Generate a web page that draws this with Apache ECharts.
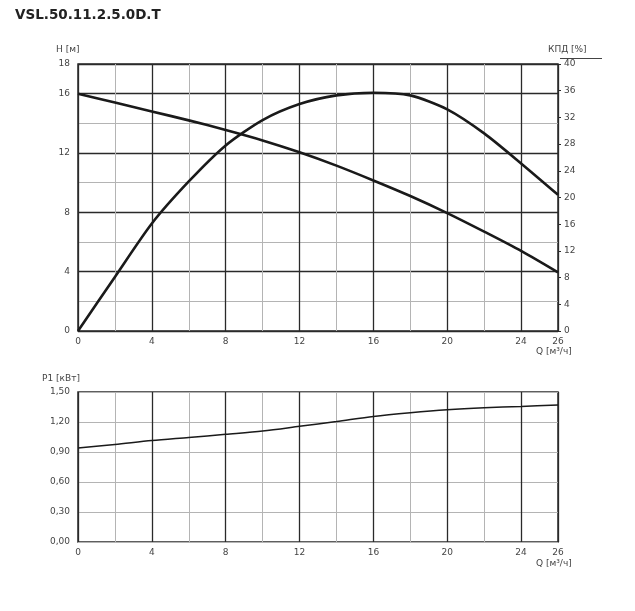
<!DOCTYPE html>
<html>
<head>
<meta charset="utf-8">
<script src="https://cdn.jsdelivr.net/npm/echarts@6/dist/echarts.min.js"></script>
<style>html,body{margin:0;padding:0;background:#fff}#c{width:635px;height:611px}</style>
</head>
<body>
<div id="c"></div>
<script>
// ---- data ----
var title = 'VSL.50.11.2.5.0D.T';
var Q   = [0, 2, 4, 6, 8, 10, 12, 14, 16, 18, 20, 22, 24, 26];
var H   = [16, 15.4, 14.8, 14.2, 13.55, 12.85, 12.05, 11.15, 10.15, 9.1, 7.95, 6.7, 5.4, 3.95];
var ETA = [0, 8.1, 16.1, 22.4, 27.8, 31.6, 34.0, 35.3, 35.7, 35.3, 33.2, 29.6, 25.1, 20.4];
var P1  = [0.94, 0.975, 1.014, 1.045, 1.077, 1.11, 1.157, 1.205, 1.256, 1.293, 1.323, 1.343, 1.356, 1.369];
var xTickLabels = [0, 4, 8, 12, 16, 20, 24, 26];
var hTickLabels = [0, 4, 8, 12, 16, 18];

function pairs(xs, ys){ return xs.map(function(x,i){ return [x, ys[i]]; }); }

var FONT = 'DejaVu Sans';
var LBL = {color:'#444', fontFamily:FONT, fontSize:9};
var DARK = '#2a2a2a', LIGHT = '#b4b4b4';

function xAxes(gi){
  return [
    {type:'value', gridIndex:gi, min:0, max:26, interval:2,
     axisLine:{show:false}, axisTick:{show:false},
     splitLine:{show:true, lineStyle:{color:LIGHT, width:1}},
     axisLabel:Object.assign({margin:6, showMaxLabel:true, formatter:function(v){ return xTickLabels.indexOf(v)>=0 ? String(v) : ''; }}, LBL)},
    {type:'value', gridIndex:gi, min:0, max:26, interval:4,
     axisLine:{show:false}, axisTick:{show:false}, axisLabel:{show:false},
     splitLine:{show:true, lineStyle:{color:DARK, width:1.3}}}
  ];
}

var option = {
  animation:false,
  backgroundColor:'#fff',
  title:{text:title, left:10, top:3, textStyle:{fontFamily:FONT, fontWeight:'bold', fontSize:13.5, color:'#222'}},
  grid:[
    {left:78, top:64, width:480, height:267, show:true, borderColor:DARK, borderWidth:1.5, backgroundColor:'transparent'},
    {left:78, top:392, width:480, height:150, show:true, borderColor:DARK, borderWidth:1.5, backgroundColor:'transparent'}
  ],
  xAxis: xAxes(0).concat(xAxes(1)),
  yAxis:[
    {type:'value', gridIndex:0, min:0, max:18, interval:2,
     axisLine:{show:false}, axisTick:{show:false},
     splitLine:{show:true, lineStyle:{color:LIGHT, width:1}},
     axisLabel:Object.assign({margin:8, showMaxLabel:true, formatter:function(v){ return hTickLabels.indexOf(v)>=0 ? String(v) : ''; }}, LBL)},
    {type:'value', gridIndex:0, min:0, max:18, interval:4,
     axisLine:{show:false}, axisTick:{show:false}, axisLabel:{show:false},
     splitLine:{show:true, lineStyle:{color:DARK, width:1.3}}},
    {type:'value', gridIndex:0, position:'right', min:0, max:40, interval:4,
     axisLine:{show:false}, axisTick:{show:true, length:3, lineStyle:{color:DARK}},
     splitLine:{show:false},
     axisLabel:Object.assign({margin:6}, LBL)},
    {type:'value', gridIndex:1, min:0, max:1.5, interval:0.3,
     axisLine:{show:false}, axisTick:{show:false},
     splitLine:{show:true, lineStyle:{color:LIGHT, width:1}},
     axisLabel:Object.assign({margin:8, formatter:function(v){ return v.toFixed(2).replace('.', ','); }}, LBL)}
  ],
  series:[
    {type:'line', xAxisIndex:0, yAxisIndex:0, data:pairs(Q,H), smooth:0.3, symbol:'none',
     lineStyle:{color:'#1a1a1a', width:2.6}},
    {type:'line', xAxisIndex:0, yAxisIndex:2, data:pairs(Q,ETA), smooth:0.25, symbol:'none',
     lineStyle:{color:'#1a1a1a', width:2.6}},
    {type:'line', xAxisIndex:2, yAxisIndex:3, data:pairs(Q,P1), smooth:0.3, symbol:'none',
     lineStyle:{color:'#1a1a1a', width:1.5}}
  ],
  graphic:[
    {type:'text', left:56, top:45, style:{text:'H [м]', fill:'#444', font:'9px "DejaVu Sans"'}},
    {type:'text', left:548, top:45, style:{text:'КПД [%]', fill:'#444', font:'9px "DejaVu Sans"'}},
    {type:'line', shape:{x1:560, y1:58.5, x2:602, y2:58.5}, style:{stroke:'#444', lineWidth:1}},
    {type:'text', left:536, top:347, style:{text:'Q [м³/ч]', fill:'#444', font:'9px "DejaVu Sans"'}},
    {type:'text', left:42, top:374, style:{text:'P1 [кВт]', fill:'#444', font:'9px "DejaVu Sans"'}},
    {type:'text', left:536, top:559, style:{text:'Q [м³/ч]', fill:'#444', font:'9px "DejaVu Sans"'}}
  ]
};
var chart = echarts.init(document.getElementById('c'), null, {renderer:'canvas'});
chart.setOption(option);
</script>
</body>
</html>
